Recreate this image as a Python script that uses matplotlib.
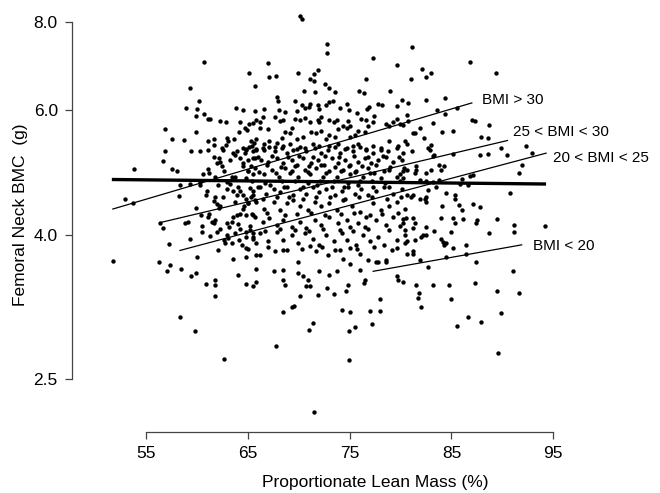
import matplotlib
matplotlib.use('Agg')
import matplotlib.pyplot as plt
from matplotlib.ticker import NullLocator

# scatter values, region by region
lean_a = [60.7, 65.1, 65.7, 59.3, 60.2, 58.9, 60.0, 63.8, 64.5, 65.7, 60.7, 59.9, 61.1, 61.3,
          62.2, 62.8, 64.2, 65.1, 65.5, 65.8, 64.7, 64.9, 56.8, 59.9, 64.1, 57.5, 58.7, 61.1,
          61.6, 62.9, 63.0, 63.6, 65.3, 65.8, 61.6, 62.8, 64.5, 64.8, 65.1, 65.4, 65.6, 62.5]
bmc_a = [7.04, 6.78, 6.50, 6.45, 6.19, 6.04, 6.03, 6.04, 6.00, 5.99, 5.94, 5.89, 5.84, 5.84,
         5.79, 5.77, 5.78, 5.75, 5.76, 5.82, 5.67, 5.63, 5.64, 5.59, 5.60, 5.46, 5.45, 5.44,
         5.47, 5.48, 5.44, 5.47, 5.44, 5.47, 5.36, 5.36, 5.31, 5.28, 5.33, 5.35, 5.39, 5.27]

lean_b = [56.8, 59.4, 60.3, 61.1, 62.4, 63.5, 63.9, 63.7, 64.8, 64.7, 65.5, 65.8, 56.6, 61.6,
          62.1, 62.2, 61.9, 63.2, 64.2, 64.5, 65.0, 65.7, 53.8, 57.5, 58.0, 61.1, 61.2, 61.7,
          62.4, 62.6, 63.4, 63.7, 64.5, 65.0, 65.5, 64.8, 60.6, 58.3, 59.3, 60.3, 60.3, 58.2,
          52.9, 53.7, 60.9, 61.7, 61.6, 62.1, 61.9, 62.2, 62.9, 62.9, 63.5, 64.2, 63.9, 64.5,
          64.8, 65.0, 65.5, 65.8, 59.9, 60.4, 61.2, 61.1, 61.7, 61.6, 61.4, 62.9, 63.4, 63.5,
          63.9, 64.2, 64.5, 64.8, 65.5, 56.3, 56.6, 58.8, 59.1, 57.2, 59.3, 60.5, 61.9, 62.9,
          63.7, 64.2, 64.8, 65.5, 62.6, 62.7, 63.4, 64.4, 64.8, 65.8, 65.5, 64.8, 60.0, 62.0,
          63.5, 64.8, 65.8, 51.7, 56.2, 57.3, 57.0, 58.4, 59.4, 59.9, 61.7, 60.9, 64.0, 64.8,
          65.8]
bmc_b = [5.26, 5.25, 5.26, 5.27, 5.30, 5.22, 5.25, 5.19, 5.29, 5.22, 5.25, 5.29, 5.09, 5.16,
         5.13, 5.07, 5.05, 5.10, 5.13, 5.05, 5.10, 5.13, 4.96, 4.96, 4.93, 4.96, 4.89, 4.83,
         5.01, 4.92, 4.83, 4.83, 5.01, 4.92, 4.87, 4.81, 4.87, 4.70, 4.72, 4.70, 4.75, 4.54,
         4.50, 4.43, 4.56, 4.52, 4.47, 4.37, 4.42, 4.40, 4.75, 4.65, 4.62, 4.62, 4.55, 4.55,
         4.50, 4.43, 4.55, 4.45, 4.37, 4.26, 4.28, 4.24, 4.20, 4.15, 4.17, 4.15, 4.17, 4.24,
         4.26, 4.28, 4.35, 4.26, 4.26, 4.15, 4.09, 4.15, 4.17, 3.88, 3.94, 4.03, 4.04, 4.00,
         4.02, 4.07, 4.04, 4.02, 3.93, 3.89, 3.89, 3.87, 3.83, 3.89, 3.97, 3.97, 3.72, 3.80,
         3.70, 3.72, 3.74, 3.67, 3.66, 3.62, 3.55, 3.58, 3.50, 3.53, 3.45, 3.41, 3.51, 3.41,
         3.43]

lean_c = [61.7, 61.7, 65.5, 58.3, 59.8, 62.6,
          68.4, 68.6, 70.1, 70.7, 71.1, 70.9, 71.9, 72.8, 73.4, 74.6, 74.8, 76.4, 76.5, 79.7,
          68.4, 69.3, 69.5, 74.2, 75.0, 77.0, 78.0, 78.0, 71.4, 71.0, 74.9, 75.5, 77.2, 67.7,
          74.9, 71.5,
          81.5, 83.2, 84.8, 87.3, 81.8, 81.7, 82.0, 85.0, 89.5, 91.6, 86.6, 87.9, 85.5, 89.9,
          89.6]
bmc_c = [3.40, 3.27, 3.38, 3.06, 2.92, 2.67,
         3.45, 3.40, 3.28, 3.38, 3.38, 3.45, 3.29, 3.36, 3.30, 3.33, 3.39, 3.42, 3.45, 3.45,
         3.11, 3.16, 3.17, 3.13, 3.11, 3.12, 3.12, 3.24, 3.00, 2.93, 2.92, 2.96, 2.99, 2.78,
         2.66, 2.24,
         3.40, 3.39, 3.40, 3.42, 3.31, 3.25, 3.16, 3.24, 3.33, 3.31, 3.06, 3.01, 2.97, 3.10,
         2.72]

lean_d = [81.1, 86.8, 89.4, 82.1, 82.5, 83.0, 81.0, 80.1, 80.7, 82.5, 84.4, 80.6, 80.7, 80.2,
          79.9, 83.6, 84.4, 85.5, 83.2, 81.9, 81.2, 81.4, 87.0, 87.3, 88.7, 85.1, 84.1, 82.3,
          87.9, 88.6, 80.4, 80.6, 89.9, 92.3]
bmc_d = [7.37, 7.03, 6.79, 6.87, 6.69, 6.77, 6.65, 6.21, 6.15, 6.20, 6.24, 5.91, 5.80, 5.72,
         5.74, 6.00, 5.94, 6.04, 5.76, 5.67, 5.58, 5.58, 5.82, 5.80, 5.72, 5.62, 5.60, 5.48,
         5.51, 5.48, 5.43, 5.38, 5.31, 5.34]

lean_e = [81.1, 82.7, 82.9, 83.0, 80.3, 80.6, 81.5, 81.5, 81.4, 82.5, 83.0, 83.2, 83.3, 84.0,
          84.3, 83.8, 85.1, 87.8, 88.6, 90.5, 92.9, 91.9, 91.6, 86.0, 86.8, 87.1, 81.9, 82.5,
          83.2, 83.8, 79.9, 80.2, 86.6, 85.8, 82.7, 83.5, 84.5, 85.3, 85.3, 81.0, 81.2, 81.9,
          82.4, 82.5, 82.5, 84.1, 85.7, 87.1, 87.8, 90.8, 80.2, 80.5, 81.2, 81.4, 81.2, 84.0,
          85.1, 86.1, 85.3, 86.0, 87.5, 87.4, 89.5, 91.1, 91.1, 94.2, 88.7, 79.9, 80.4, 80.4,
          80.6, 81.2, 81.4, 82.0, 82.5, 82.2, 82.5, 83.3, 84.0, 84.2, 84.5, 84.3, 85.0, 85.1,
          86.4, 81.2, 81.9, 82.7, 84.5, 86.4, 87.4, 91.0]
bmc_e = [5.26, 5.31, 5.27, 5.36, 4.98, 4.94, 5.00, 4.94, 4.89, 4.89, 4.94, 5.17, 5.19, 4.94,
         5.01, 5.03, 5.20, 5.19, 5.20, 5.19, 5.23, 5.03, 4.89, 4.80, 4.85, 4.86, 4.78, 4.76,
         4.75, 4.78, 4.87, 4.81, 4.70, 4.72, 4.63, 4.67, 4.59, 4.55, 4.50, 4.52, 4.55, 4.50,
         4.49, 4.52, 4.45, 4.40, 4.41, 4.42, 4.38, 4.59, 4.21, 4.23, 4.23, 4.15, 4.09, 4.22,
         4.23, 4.21, 4.16, 4.34, 4.20, 4.16, 4.21, 4.13, 4.03, 4.11, 4.02, 4.12, 4.06, 4.00,
         3.92, 3.79, 3.93, 3.97, 3.99, 3.99, 4.10, 4.05, 3.95, 3.91, 3.89, 3.87, 4.04, 3.83,
         3.87, 3.76, 3.68, 3.60, 3.72, 3.76, 3.66, 3.55]

lean_f = [70.1, 70.3, 72.8, 72.8, 67.0, 69.9, 77.3, 79.6, 67.1, 67.7, 71.5, 71.9, 71.1, 71.5,
          76.6, 72.6, 73.0, 73.5, 71.6, 70.5, 75.9, 76.4, 79.0, 67.8, 67.9, 69.6, 70.3, 71.0,
          71.1, 71.9, 72.0, 72.7, 73.0, 73.3, 74.0, 74.7, 74.9, 66.6, 68.0, 68.6, 69.8, 70.6,
          75.7, 76.7, 76.9, 77.8, 78.2, 79.6, 76.1, 76.6, 77.3, 77.4, 79.6, 78.6, 78.9, 66.5,
          66.2, 66.2, 67.0, 67.6, 68.1, 68.4, 69.6, 70.1, 70.6, 71.1, 71.9, 72.2, 72.0, 73.0,
          73.4, 73.7, 74.3, 74.7, 75.0, 74.8, 69.3, 69.1, 68.6, 69.8, 70.4, 71.2, 71.7, 72.2,
          73.0, 73.5, 73.8, 75.0, 75.5, 75.8, 76.5, 76.8, 66.6, 67.1, 67.8, 68.3, 68.4, 69.1,
          66.6, 67.6, 69.8, 70.6, 71.4, 72.0, 72.7, 73.0, 73.8, 74.5, 75.3, 75.8, 76.6, 77.3,
          78.1, 78.9, 79.7, 79.2]
bmc_f = [8.17, 8.08, 7.45, 7.23, 7.00, 6.77, 7.11, 6.97, 6.70, 6.72, 6.75, 6.84, 6.66, 6.61,
         6.64, 6.55, 6.45, 6.38, 6.38, 6.40, 6.40, 6.35, 6.40, 6.26, 6.19, 6.19, 6.11, 6.06,
         6.12, 6.11, 6.03, 6.11, 6.16, 6.18, 6.04, 6.12, 6.01, 6.03, 6.00, 5.98, 5.99, 6.04,
         5.95, 6.03, 6.07, 6.12, 6.10, 6.08, 5.83, 5.82, 5.77, 5.89, 5.84, 5.74, 5.71, 5.88,
         5.77, 5.66, 5.65, 5.88, 5.80, 5.82, 5.84, 5.82, 5.85, 5.77, 5.82, 5.88, 5.77, 5.82,
         5.77, 5.82, 5.71, 5.67, 5.71, 5.80, 5.67, 5.57, 5.59, 5.47, 5.50, 5.59, 5.57, 5.62,
         5.53, 5.50, 5.65, 5.50, 5.53, 5.62, 5.59, 5.71, 5.38, 5.43, 5.40, 5.48, 5.35, 5.38,
         5.28, 5.33, 5.29, 5.31, 5.38, 5.35, 5.46, 5.35, 5.38, 5.29, 5.35, 5.38, 5.29, 5.35,
         5.28, 5.43, 5.35, 5.77]

lean_g = [65.8, 66.5, 67.1, 67.6, 68.3, 68.8, 69.4, 70.1, 70.7, 71.6, 72.2, 72.9, 73.5, 74.0,
          74.7, 75.3, 76.0, 76.6, 77.3, 78.1, 78.8, 79.6, 80.2,
          65.5, 66.3, 67.0, 67.8, 68.4, 69.3, 69.8, 70.4, 71.2, 71.9, 72.5, 73.2, 73.8, 74.5,
          75.0, 75.8, 76.5, 77.1, 77.8, 78.6, 79.2, 80.1,
          65.0, 65.7, 66.6, 67.3, 68.0, 68.6, 69.1, 69.9, 70.6, 71.1, 71.7, 72.4, 73.0, 73.7,
          74.3, 75.0, 75.6, 76.3, 76.8, 77.4, 78.1, 78.9, 79.6, 80.2,
          65.5, 66.2, 66.8, 67.5, 68.1, 68.8, 69.4, 70.1, 70.7, 71.4, 72.0, 72.7, 73.5, 74.2,
          74.8, 75.5, 76.1, 76.8, 77.6, 78.4, 79.2, 80.1, 80.6,
          65.0, 65.7, 66.6, 67.5, 68.1, 68.8, 69.4, 70.1, 70.9, 71.6, 72.2, 73.0, 73.7, 74.3,
          75.2, 76.0, 76.6, 77.3, 78.1, 78.9, 79.6, 80.4,
          65.7, 66.5, 67.1, 67.8, 68.4, 69.3, 70.1, 70.7, 71.6, 72.2, 73.0, 73.8, 74.7, 75.0,
          75.8, 76.5, 77.6, 78.6, 79.2, 80.2,
          65.5, 66.2, 67.0, 67.8, 68.4, 69.3, 69.9, 70.6, 71.4, 72.0, 72.7, 73.4, 74.2, 74.7,
          75.6, 76.3, 77.0, 77.8, 78.4, 79.6, 80.4,
          66.2, 67.6, 68.8, 69.9, 71.1, 71.7, 72.9, 73.5, 74.3, 75.0, 76.0, 76.8, 77.6, 78.6,
          79.6, 80.6,
          65.8, 67.5, 68.4, 69.9, 70.4, 72.0, 73.0, 73.7, 75.0, 76.0, 77.8, 78.6, 79.6, 80.2]
bmc_g = [5.27, 5.30, 5.33, 5.25, 5.30, 5.22, 5.27, 5.33, 5.25, 5.30, 5.22, 5.27, 5.33, 5.22,
         5.30, 5.25, 5.33, 5.27, 5.22, 5.30, 5.25, 5.30, 5.22,
         5.13, 5.10, 5.07, 5.13, 5.05, 5.10, 5.02, 5.13, 5.05, 5.10, 5.02, 5.13, 5.05, 5.10,
         5.02, 5.07, 5.13, 5.05, 5.10, 5.15, 5.07, 5.10,
         4.92, 4.98, 4.87, 4.94, 4.83, 4.98, 4.89, 4.83, 4.94, 4.87, 4.98, 4.83, 4.92, 4.83,
         4.94, 4.87, 4.92, 4.83, 4.98, 4.89, 4.81, 4.94, 4.83, 4.92,
         4.62, 4.67, 4.57, 4.65, 4.60, 4.67, 4.55, 4.65, 4.57, 4.67, 4.60, 4.65, 4.55, 4.62,
         4.67, 4.57, 4.65, 4.55, 4.62, 4.67, 4.57, 4.65, 4.55,
         4.43, 4.48, 4.35, 4.45, 4.34, 4.43, 4.48, 4.39, 4.34, 4.45, 4.39, 4.43, 4.34, 4.48,
         4.40, 4.31, 4.24, 4.43, 4.34, 4.39, 4.45, 4.35,
         4.24, 4.17, 4.22, 4.13, 4.20, 4.10, 4.17, 4.09, 4.20, 4.13, 4.24, 4.15, 4.20, 4.10,
         4.15, 4.10, 4.20, 4.13, 4.24, 4.15,
         3.95, 4.02, 3.92, 4.04, 3.93, 3.99, 3.89, 4.02, 3.95, 3.87, 3.99, 3.92, 4.02, 3.93,
         3.87, 3.99, 3.92, 3.97, 3.87, 3.93, 3.89,
         3.74, 3.79, 3.80, 3.66, 3.85, 3.79, 3.74, 3.80, 3.70, 3.83, 3.76, 3.68, 3.66, 3.68,
         3.83, 3.76,
         3.58, 3.55, 3.56, 3.53, 3.50, 3.55, 3.51, 3.55, 3.64, 3.56, 3.66, 3.66, 3.50, 3.43]

# extra points in the densest part of the cloud
lean_h = [66.0, 67.3, 68.9, 70.0, 71.4, 72.6, 73.9, 75.4, 76.8, 78.3, 79.8,
          65.3, 66.9, 68.2, 69.6, 71.0, 72.2, 73.5, 74.9, 76.2, 77.6, 79.0,
          66.1, 67.7, 69.3, 70.9, 72.7, 74.1, 75.5, 77.0, 78.4,
          65.4, 66.7, 68.3, 69.6, 70.9, 72.1, 73.4, 74.8, 76.0, 77.2, 78.5, 79.9,
          66.0, 67.2, 68.5, 70.4, 71.8, 73.2, 74.4, 75.8, 77.3, 78.9,
          65.3, 66.5, 67.8, 69.0, 70.4, 71.7, 73.1, 74.5, 75.9, 77.2, 78.7, 80.0,
          65.4, 66.9, 68.6, 69.8, 71.2, 72.6, 74.1, 75.4, 77.0, 78.2, 79.7,
          65.2, 66.7, 68.1, 69.6, 71.0, 72.4, 74.0, 75.3, 76.8, 78.9,
          65.0, 67.0, 68.4, 70.3, 72.3, 74.0, 75.7, 77.4, 79.1,
          62.0, 63.2, 64.0, 65.2, 61.0, 62.5, 63.7, 64.6, 60.5, 62.2, 63.1, 64.0, 65.2, 61.3,
          63.0, 64.1]
bmc_h = [5.16, 5.18, 5.15, 5.17, 5.16, 5.18, 5.15, 5.17, 5.16, 5.18, 5.15,
         5.00, 5.02, 4.99, 5.01, 5.00, 5.02, 4.99, 5.01, 5.00, 5.02, 4.99,
         4.91, 4.90, 4.92, 4.91, 4.90, 4.92, 4.91, 4.90, 4.92,
         4.76, 4.74, 4.77, 4.76, 4.74, 4.77, 4.76, 4.74, 4.77, 4.76, 4.74, 4.77,
         4.68, 4.70, 4.67, 4.68, 4.70, 4.67, 4.68, 4.70, 4.67, 4.68,
         4.52, 4.50, 4.53, 4.52, 4.50, 4.53, 4.52, 4.50, 4.53, 4.52, 4.50, 4.53,
         4.28, 4.30, 4.27, 4.28, 4.30, 4.27, 4.28, 4.30, 4.27, 4.28, 4.30,
         4.06, 4.05, 4.07, 4.06, 4.05, 4.07, 4.06, 4.05, 4.07, 4.06,
         3.82, 3.84, 3.81, 3.82, 3.84, 3.81, 3.82, 3.84, 3.81,
         4.70, 4.72, 4.68, 4.66, 4.62, 4.52, 4.45, 4.40, 4.12, 4.08, 4.10, 4.14, 4.12, 3.98,
         3.96, 3.93]

# group fits (start / end of each line) and the overall fit
fit_labels = ['BMI > 30', '25 < BMI < 30', '20 < BMI < 25', 'BMI < 20']
fit_x = [(51.7, 87.0), (56.3, 90.5), (58.3, 94.3), (77.3, 91.9)]
fit_y = [(4.35, 6.15), (4.16, 5.44), (3.80, 5.22), (3.55, 3.87)]
label_x = [88.0, 91.0, 95.0, 93.0]
label_y = [6.21, 5.60, 5.14, 3.85]
overall_x = (51.6, 94.3)
overall_y = (4.79, 4.72)

yticks = [2.5, 4.0, 6.0, 8.0]
xticks = [55, 65, 75, 85, 95]


def main():
    plt.rcParams['font.family'] = ['Liberation Sans', 'DejaVu Sans']
    fig = plt.figure(figsize=(6.6, 4.93), dpi=100)
    ax = fig.add_axes([0.1086, 0.1237, 0.8308, 0.8661])

    lean = lean_a + lean_b + lean_c + lean_d + lean_e + lean_f + lean_g + lean_h
    bmc = bmc_a + bmc_b + bmc_c + bmc_d + bmc_e + bmc_f + bmc_g + bmc_h
    ax.scatter(lean, bmc, s=10, c='black', linewidths=0, zorder=2)

    for lab, xs, ys, lx, ly in zip(fit_labels, fit_x, fit_y, label_x, label_y):
        ax.plot(xs, ys, color='black', lw=0.9, zorder=3)
        ax.text(lx, ly, lab, fontsize=11, ha='left', va='center')
    ax.plot(overall_x, overall_y, color='black', lw=2.4, zorder=3, solid_capstyle='butt')

    ax.set_yscale('log')
    ax.set_xlim(47.65, 101.57)
    ax.set_ylim(2.101, 8.465)
    ax.set_yticks(yticks)
    ax.set_yticklabels(['%.1f' % v for v in yticks])
    ax.yaxis.set_minor_locator(NullLocator())
    ax.set_xticks(xticks)
    ax.set_xticklabels([str(v) for v in xticks])

    for s in ['top', 'right']:
        ax.spines[s].set_visible(False)
    ax.spines['left'].set_bounds(2.5, 8.0)
    ax.spines['bottom'].set_bounds(55, 95)
    for s in ['left', 'bottom']:
        ax.spines[s].set_color('#444444')
        ax.spines[s].set_linewidth(0.9)
    ax.tick_params(direction='out', length=5, width=0.9, color='#444444',
                   labelsize=12.5, pad=5)

    fig.text(375 / 660, 1 - 482 / 493, 'Proportionate Lean Mass (%)',
             fontsize=12.5, ha='center', va='center')
    fig.text(21 / 660, 1 - 215 / 493, 'Femoral Neck BMC  (g)',
             fontsize=12.5, ha='center', va='center', rotation=90)

    fig.savefig('out.png', dpi=100)


if __name__ == '__main__':
    main()
